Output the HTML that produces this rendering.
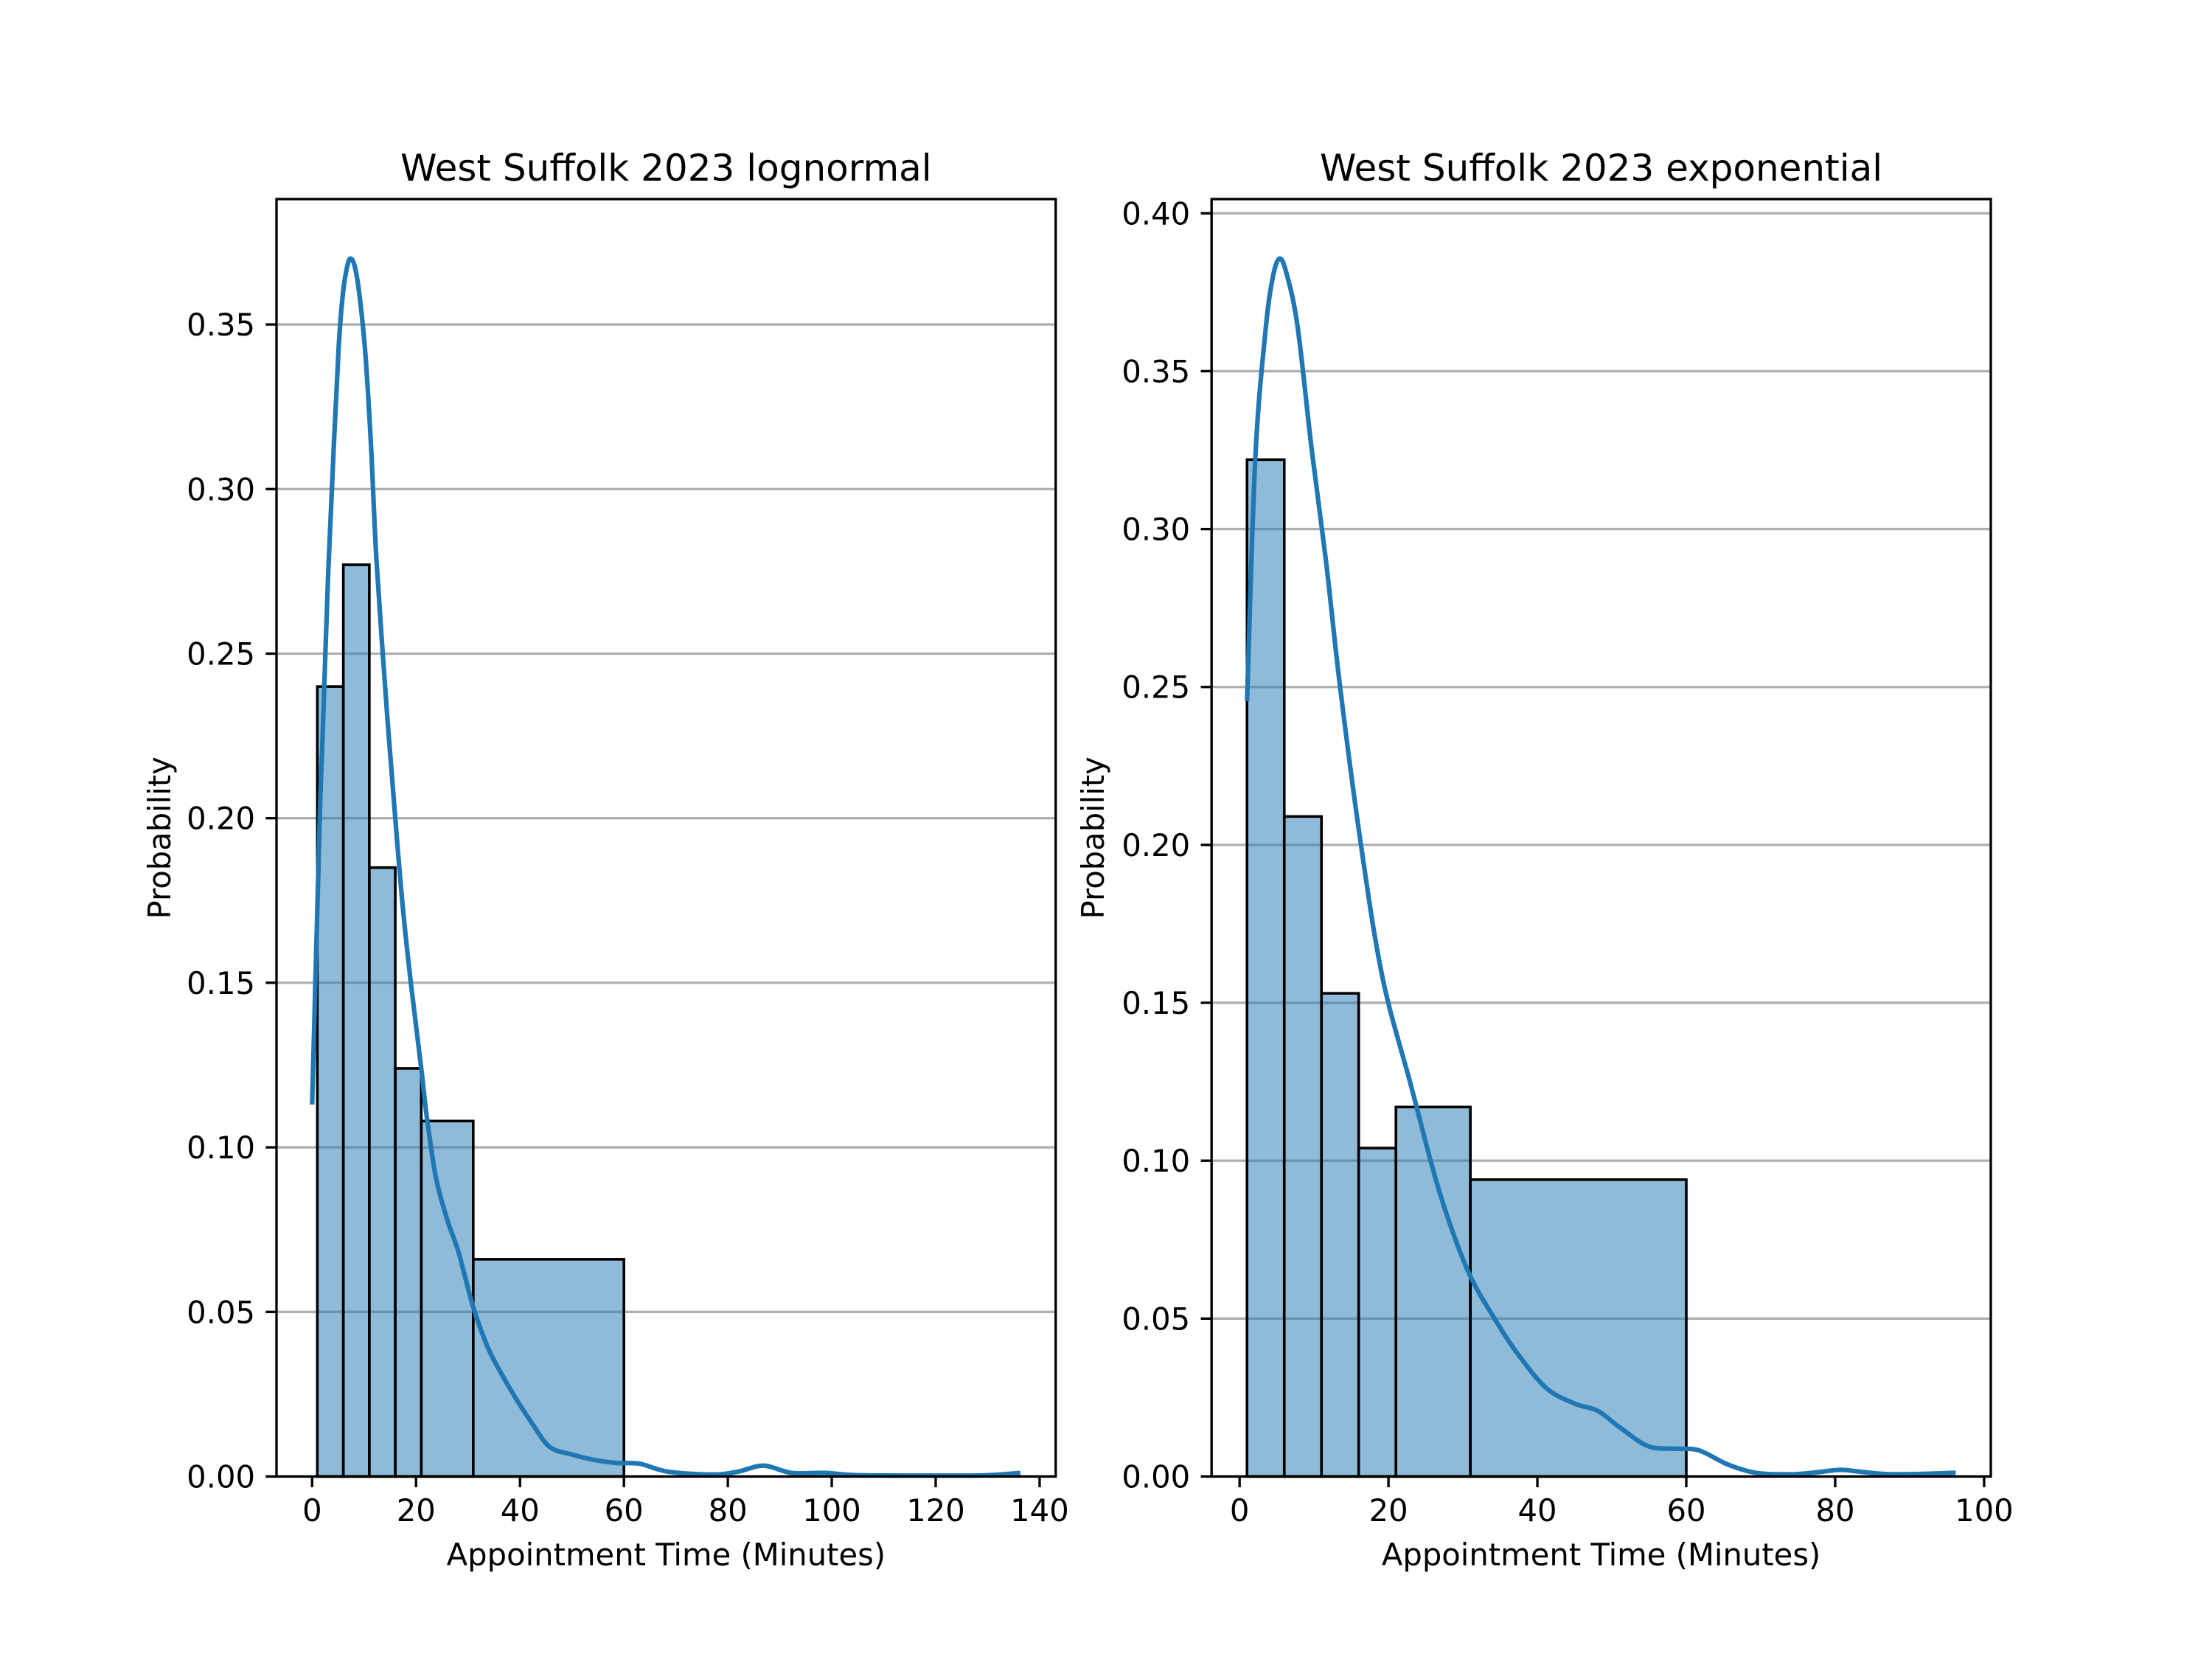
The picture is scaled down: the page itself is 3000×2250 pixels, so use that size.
<!DOCTYPE html>
<html><head><meta charset="utf-8"><style>
html,body{margin:0;padding:0;background:#fff;}
svg{display:block;font-family:"DejaVu Sans","Liberation Sans",sans-serif;}
</style></head><body>
<svg id="fig" width="3000" height="2250" viewBox="0 0 3000 2250" xmlns="http://www.w3.org/2000/svg">
<rect width="3000" height="2250" fill="#fff"/>
</svg>
<script>
// ---- data ----
const binEdges = [1, 6, 11, 16, 21, 31, 60];
const leftBarValues = [0.240, 0.277, 0.185, 0.124, 0.108, 0.066];
const rightBarValues = [0.322, 0.209, 0.153, 0.104, 0.117, 0.094];
const leftKdeX = [0,1.5,2,3.1,4.2,5.1,5.9,6.8,7.5,8.3,9.1,10.2,11.3,12.4,14.5,16.2,17.5,19,21,22,23.8,26,28.2,30.9,33.6,35.8,39.1,42.4,45.7,50,54.4,58.7,63,68.4,77.1,82,86.9,92.3,98.8,105.4,123.8,130,136.3];
const leftKdeY = [0.113,0.202,0.224,0.275,0.314,0.343,0.359,0.368,0.370,0.367,0.359,0.342,0.314,0.278,0.230,0.196,0.172,0.150,0.124,0.110,0.091,0.078,0.068,0.052,0.040,0.033,0.024,0.016,0.009,0.0067,0.005,0.0041,0.0039,0.0015,0.0006,0.0015,0.0033,0.0011,0.0011,0.0004,0.0003,0.0004,0.0011];
const rightKdeX = [1,2.1,3.45,4.4,5.33,6.3,7.8,9.7,11.6,13.5,16.3,19.2,23,26.8,30.6,34.4,37.4,41.2,45,48.1,51.1,54.9,58.7,61.7,65.5,69.3,73.8,77,80.6,83,86.7,91,96.2];
const rightKdeY = [0.2455,0.322,0.362,0.379,0.3856,0.381,0.364,0.325,0.290,0.250,0.200,0.158,0.124,0.0905,0.0655,0.0494,0.0387,0.028,0.0231,0.0208,0.0155,0.0096,0.0088,0.0083,0.0039,0.0012,0.0007,0.0012,0.0021,0.0016,0.0008,0.0008,0.0012];
const leftXTicks = [0,20,40,60,80,100,120,140];
const rightXTicks = [0,20,40,60,80,100];
const leftYTicks = [0,0.05,0.10,0.15,0.20,0.25,0.30,0.35];
const rightYTicks = [0,0.05,0.10,0.15,0.20,0.25,0.30,0.35,0.40];

const NS = "http://www.w3.org/2000/svg";
const svg = document.getElementById('fig');
function mk(tag, attrs, parent){ const e=document.createElementNS(NS,tag); for(const k in attrs) e.setAttribute(k,attrs[k]); (parent||svg).appendChild(e); return e; }

function smoothPath(pts){
  let d='M'+pts[0][0].toFixed(1)+','+pts[0][1].toFixed(1);
  for(let i=0;i<pts.length-1;i++){
    const p0=pts[Math.max(0,i-1)], p1=pts[i], p2=pts[i+1], p3=pts[Math.min(pts.length-1,i+2)];
    const c1x=p1[0]+(p2[0]-p0[0])/6, c1y=p1[1]+(p2[1]-p0[1])/6;
    const c2x=p2[0]-(p3[0]-p1[0])/6, c2y=p2[1]-(p3[1]-p1[1])/6;
    d+=' C'+c1x.toFixed(1)+','+c1y.toFixed(1)+' '+c2x.toFixed(1)+','+c2y.toFixed(1)+' '+p2[0].toFixed(1)+','+p2[1].toFixed(1);
  }
  return d;
}

function panel(cfg){
  const L=cfg.left, R=cfg.left+1056.8, T=270, B=2002.5;
  const g = mk('g',{});
  
  
  const sx = v => L + (v - cfg.xmin)/(cfg.xmax-cfg.xmin)*(R-L);
  const sy = v => B - (v - 0)/(cfg.ymax)*(B-T);
  cfg.yTicks.forEach(t=>{
    const ln = mk('line',{x1:L,x2:R,y1:sy(t),y2:sy(t),stroke:'#b0b0b0','stroke-width':3.33},g);
    
    
  });
  cfg.bars.forEach((v,i)=>{
    const x0=sx(binEdges[i]), x1=sx(binEdges[i+1]);
    const r = mk('rect',{x:x0,y:sy(v),width:x1-x0,height:sy(0)-sy(v),fill:'rgba(31,119,180,0.5)',stroke:'#000','stroke-width':3.6},g);
    
    
  });
  const pts = cfg.kx.map((x,i)=>[sx(x), sy(cfg.ky[i])]);
  const p = mk('path',{d:smoothPath(pts),fill:'none',stroke:'#1f77b4','stroke-width':6.25,'stroke-linejoin':'round','stroke-linecap':'butt'},g);
  
  
  const fr = mk('rect',{x:L,y:T,width:R-L,height:B-T,fill:'none',stroke:'#000','stroke-width':3.33},g);
  
  
  cfg.xTicks.forEach(t=>{
    const x=sx(t);
    const tk = mk('line',{x1:x,x2:x,y1:B,y2:B+14.6,stroke:'#000','stroke-width':3.33},g);
    
    
    const tx = mk('text',{x:x,y:2063,'font-size':41.7,'text-anchor':'middle',fill:'#000'},g);
    tx.textContent = String(t);
    
    
  });
  cfg.yTicks.forEach(t=>{
    const y=sy(t);
    const tk = mk('line',{x1:L-14.6,x2:L,y1:y,y2:y,stroke:'#000','stroke-width':3.33},g);
    
    
    const tx = mk('text',{x:L-29,y:y+15,'font-size':41.7,'text-anchor':'end',fill:'#000'},g);
    tx.textContent = t.toFixed(2);
    
    
  });
  const xl = mk('text',{x:(L+R)/2,y:2123,'font-size':41.7,'text-anchor':'middle',fill:'#000'},g);
  xl.textContent='Appointment Time (Minutes)';
  
  
  const yx = cfg.ylabelX;
  const yl = mk('text',{x:yx,y:(T+B)/2,'font-size':41.7,'text-anchor':'middle',fill:'#000',transform:'rotate(-90 '+yx+' '+((T+B)/2)+')'},g);
  yl.textContent='Probability';
  
  
  const ti = mk('text',{x:(L+R)/2,y:245,'font-size':50,'text-anchor':'middle',fill:'#000'},g);
  ti.textContent=cfg.title;
  
  
}
panel({name:'lognormal-panel',left:375,xmin:-6.86,xmax:143.1,ymax:0.3881,bars:leftBarValues,kx:leftKdeX,ky:leftKdeY,xTicks:leftXTicks,yTicks:leftYTicks,title:'West Suffolk 2023 lognormal',ylabelX:231});
panel({name:'exponential-panel',left:1643.2,xmin:-3.76,xmax:100.9,ymax:0.4045,bars:rightBarValues,kx:rightKdeX,ky:rightKdeY,xTicks:rightXTicks,yTicks:rightYTicks,title:'West Suffolk 2023 exponential',ylabelX:1497});
</script>
</body></html>
